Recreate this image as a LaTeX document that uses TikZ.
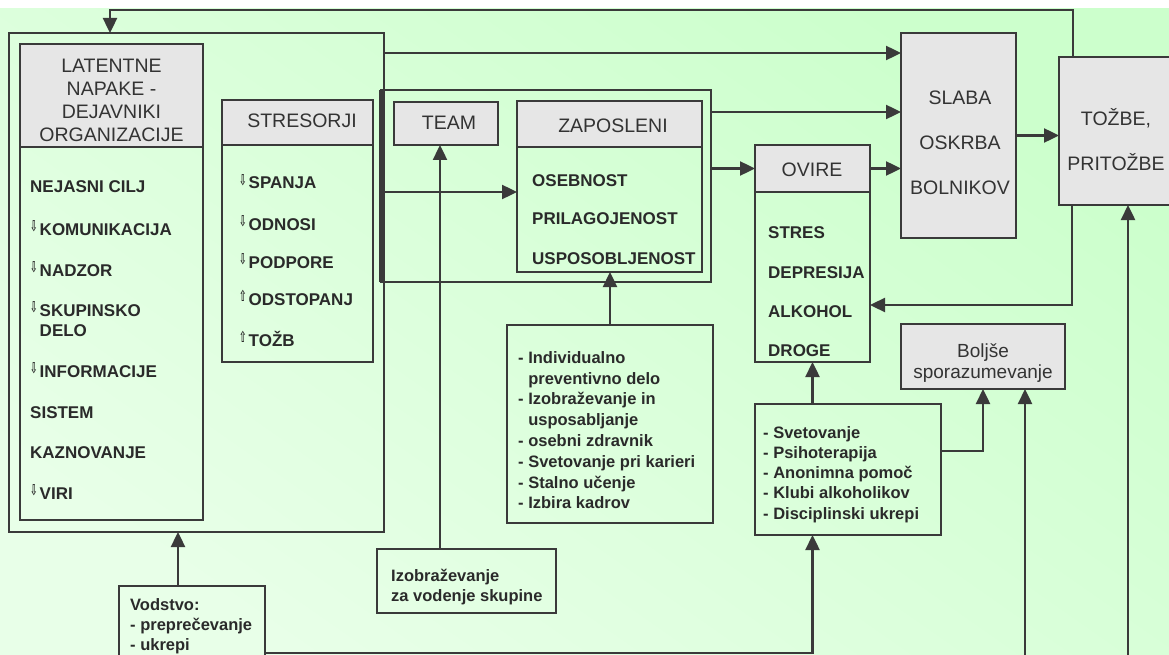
\documentclass[tikz,border=0pt]{standalone}
\usepackage{fontspec}
\usepackage{graphicx}
\setmainfont{Liberation Sans}
\newfontfamily\symfont{DejaVu Sans}
\usetikzlibrary{arrows.meta}

\definecolor{bgtop}{HTML}{CCFFCC}
\definecolor{bgbot}{HTML}{E8FFE8}
\definecolor{lineC}{HTML}{3A3A3A}
\definecolor{hdrC}{HTML}{E6E6E6}
\definecolor{txtC}{HTML}{333333}
\definecolor{itemC}{HTML}{2A2A2A}

% small outlined arrows in front of list items
\newcommand\arrdn{\raisebox{3.5pt}{\scalebox{0.6}[1]{\symfont\bfseries\fontsize{15}{15}\selectfont ⇩}}\hspace{2pt}}
\newcommand\arrup{\raisebox{3.5pt}{\scalebox{0.6}[1]{\symfont\bfseries\fontsize{15}{15}\selectfont ⇧}}\hspace{2pt}}

% box from its corners: name, style, x1, y1, x2, y2
\newcommand\mkbox[6]{%
  \pgfmathsetmacro\mbW{#5-#3}\pgfmathsetmacro\mbH{#6-#4}%
  \pgfmathsetmacro\mbX{(#3+#5)/2}\pgfmathsetmacro\mbY{(#4+#6)/2}%
  \node[#2, minimum width=\mbW pt, minimum height=\mbH pt] (#1) at (\mbX,\mbY) {};}

\begin{document}
\begin{tikzpicture}[x=1pt,y=-1pt,
  box/.style={draw=lineC, line width=2.2pt, inner sep=0pt, outer sep=0pt, rectangle},
  hdr/.style={box, fill=hdrC},
  hdrtext/.style={anchor=base, inner sep=0pt, text=txtC, font=\fontsize{19.5}{23}\selectfont},
  item/.style={anchor=base west, inner sep=0pt, text=itemC, font=\bfseries\fontsize{17}{17}\selectfont},
  listitem/.style={anchor=base west, inner sep=0pt, text=itemC, font=\bfseries\fontsize{16.5}{16.5}\selectfont},
  conn/.style={draw=lineC, line width=2.4pt},
  arr/.style={conn, -{Triangle[length=15pt,width=14pt]}},
]
\useasboundingbox (0,0) rectangle (1169,655);
\clip (0,0) rectangle (1169,655);

% background
\fill[white] (0,0) rectangle (1169,655);
\shade[top color=bgtop, bottom color=bgbot, shading angle=-35] (0,9) rectangle (1169,655);

% boxes
\mkbox{outer}{box}{9}{33}{384}{532}
\mkbox{lathdr}{hdr}{20}{44}{203}{147}
\mkbox{latbody}{box}{20}{147}{203}{520}
\mkbox{streshdr}{hdr}{222}{100}{373}{145}
\mkbox{stresbody}{box}{222}{145}{373}{362}
\mkbox{grp}{box}{381}{90}{711}{282}
\draw[lineC, line width=5pt] (grp.north west) -- (grp.south west);
\mkbox{team}{hdr}{394}{102}{498}{145}
\mkbox{zaphdr}{hdr}{517}{101}{702}{147}
\mkbox{zapbody}{box}{517}{147}{702}{272}
\mkbox{ovhdr}{hdr}{755}{145}{870}{192}
\mkbox{ovbody}{box}{755}{192}{870}{362}
\mkbox{slaba}{hdr}{901}{33}{1016}{238}
\mkbox{tozbe}{hdr}{1059}{57}{1173}{205}
\mkbox{boljse}{hdr}{901}{324}{1065}{389}
\mkbox{svet}{box}{755}{404}{941}{535}
\mkbox{indiv}{box}{507}{325}{713}{523}
\mkbox{izob}{box}{377}{549}{556}{613}
\mkbox{vodstvo}{box}{119}{586}{265}{690}

% free ends entering from below
\coordinate (inA) at (1128,660);
\coordinate (inB) at (1025,660);

% connectors
\draw[arr] ([xshift=14pt]tozbe.north west) -- ++(0,-47) -| ([xshift=101pt]outer.north west);
\draw[arr] (outer.east |- 0,53) -- (slaba.west |- 0,53);
\draw[arr] (outer.east |- 0,192) -- (zapbody.west |- 0,192);
\draw[arr] (grp.east |- 0,112) -- (slaba.west |- 0,112);
\draw[arr] (grp.east |- ovhdr.west) -- (ovhdr.west);
\draw[arr] (ovhdr.east) -- (slaba.west |- ovhdr.east);
\draw[arr] (slaba.east) -- (tozbe.west |- slaba.east);
\draw[arr] ([xshift=13pt]tozbe.south west) |- ([yshift=-28pt]ovbody.east);
\draw[arr] (inA) -- (inA |- tozbe.south);
\draw[arr] (inB) -- (inB |- boljse.south);
\draw[arr] ([yshift=18.5pt]svet.east) -| (boljse.south);
\draw[arr] (svet.north -| ovbody.south) -- (ovbody.south);
\draw[arr] ([yshift=-15pt]vodstvo.east) -| (svet.south -| ovbody.south);
\draw[arr] ([xshift=-14pt]vodstvo.north) -- ([xshift=-18.5pt]outer.south);
\draw[arr] (indiv.north) -- (indiv.north |- zapbody.south);
\draw[arr] ([xshift=-26.5pt]izob.north) -- ([xshift=-6pt]team.south);

% header texts
\foreach \t/\y [count=\i] in {LATENTNE/73, {NAPAKE -}/96, DEJAVNIKI/119, ORGANIZACIJE/142}
  \node[hdrtext] (latt\i) at (111.5,\y) {\t};
\node[hdrtext] (strest) at (302,128) {STRESORJI};
\node[hdrtext] (teamt) at (449,130) {TEAM};
\node[hdrtext] (zapt) at (613,133) {ZAPOSLENI};
\node[hdrtext] (ovt) at (812,177) {OVIRE};
\foreach \t/\y [count=\i] in {SLABA/105, OSKRBA/150, BOLNIKOV/195}
  \node[hdrtext] (slabat\i) at (960,\y) {\t};
\foreach \t/\y [count=\i] in {{TOŽBE,}/126, PRITOŽBE/171}
  \node[hdrtext] (tozbet\i) at (1116,\y) {\t};
\foreach \t/\y [count=\i] in {Boljše/357, sporazumevanje/378}
  \node[hdrtext, font=\fontsize{19}{21}\selectfont] (boljset\i) at (983,\y) {\t};

% list texts
\foreach \t/\y [count=\i] in {{NEJASNI CILJ}/193, {\arrdn KOMUNIKACIJA}/235, {\arrdn NADZOR}/276,
    {\arrdn SKUPINSKO}/316, {\hphantom{\arrdn}DELO}/336, {\arrdn INFORMACIJE}/377,
    SISTEM/418, KAZNOVANJE/458, {\arrdn VIRI}/499}
  \node[item] (lat\i) at (30,\y) {\t};
\foreach \t/\y [count=\i] in {{\arrdn SPANJA}/189, {\arrdn ODNOSI}/230, {\arrdn PODPORE}/268,
    {\arrup ODSTOPANJ}/305, {\arrup TOŽB}/346}
  \node[item] (stres\i) at (239,\y) {\t};
\foreach \t/\y [count=\i] in {OSEBNOST/186, PRILAGOJENOST/224, USPOSOBLJENOST/264}
  \node[item] (zap\i) at (532,\y) {\t};
\foreach \t/\y [count=\i] in {STRES/238, DEPRESIJA/278, ALKOHOL/317, DROGE/356}
  \node[item] (ov\i) at (768,\y) {\t};
\foreach \t/\y [count=\i] in {{- Individualno}/363, {\hphantom{- }preventivno delo}/384,
    {- Izobraževanje in}/404, {\hphantom{- }usposabljanje}/425, {- osebni zdravnik}/446,
    {- Svetovanje pri karieri}/467, {- Stalno učenje}/488, {- Izbira kadrov}/508}
  \node[listitem] (indiv\i) at (518,\y) {\t};
\foreach \t/\y [count=\i] in {{- Svetovanje}/438, {- Psihoterapija}/458, {- Anonimna pomoč}/478,
    {- Klubi alkoholikov}/498, {- Disciplinski ukrepi}/519}
  \node[listitem] (svet\i) at (763,\y) {\t};
\foreach \t/\y [count=\i] in {Izobraževanje/581, {za vodenje skupine}/601}
  \node[listitem] (izob\i) at (391,\y) {\t};
\foreach \t/\y [count=\i] in {Vodstvo:/610, {- preprečevanje}/630, {- ukrepi}/650}
  \node[listitem] (vod\i) at (130,\y) {\t};
\end{tikzpicture}
\end{document}
